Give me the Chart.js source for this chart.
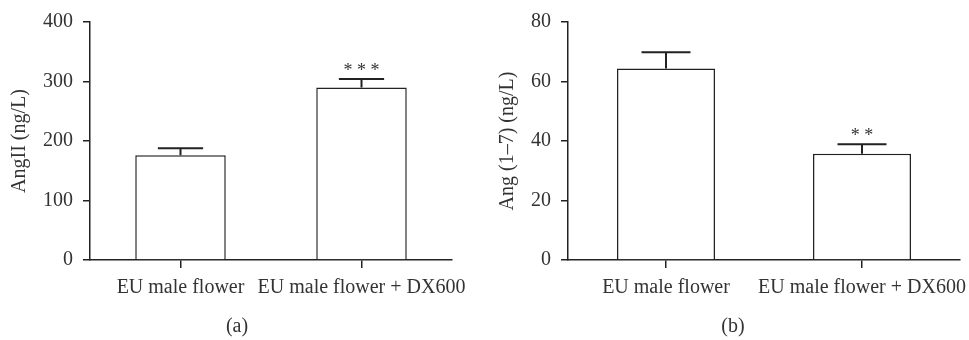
<!DOCTYPE html>
<html>
<head>
<meta charset="utf-8">
<script src="https://cdn.jsdelivr.net/npm/chart.js@4"></script>
<style>
  body { margin: 0; background: #fff; }
  .panel { position: absolute; top: 0; height: 340px; }
  .cap { position: absolute; top: 314px; font: 20px "Liberation Serif", serif; color: #333; transform: translateX(-50%); }
</style>
</head>
<body>
<div class="panel" style="left:0;width:480px"><canvas id="chartA" width="480" height="340"></canvas></div>
<div class="panel" style="left:480px;width:489px"><canvas id="chartB" width="489" height="340"></canvas></div>
<div class="cap" style="left:237px">(a)</div>
<div class="cap" style="left:733px">(b)</div>
<script>
// categories, shared by both panels
let groups = ['EU male flower', 'EU male flower + DX600']

// (a) AngII
let angII = [176, 290]
let angIIErr = [12, 14]
let angIIStars = ['', '* * *']

// (b) Ang (1-7)
let ang17 = [64.4, 35.7]
let ang17Err = [5.4, 3.2]
let ang17Stars = ['', '* *']

let ink = '#222'
let textInk = '#333'
Chart.defaults.font.family = '"Liberation Serif", "Times New Roman", serif'
Chart.defaults.color = textInk

/* error bars + significance stars, drawn above each bar */
let errorBars = {
    id: 'errorBars',
    afterDatasetsDraw(chart, args, opts) {
        let ctx = chart.ctx
        let yScale = chart.scales.y
        let meta = chart.getDatasetMeta(0)
        meta.data.forEach((bar, i) => {
            let v = chart.data.datasets[0].data[i]
            let top = yScale.getPixelForValue(v + opts.errors[i])
            let half = bar.width / 4
            ctx.save()
            ctx.strokeStyle = ink
            ctx.lineWidth = 2
            ctx.beginPath()
            ctx.moveTo(bar.x, bar.y)
            ctx.lineTo(bar.x, top)
            ctx.moveTo(bar.x - half, top)
            ctx.lineTo(bar.x + half, top)
            ctx.stroke()
            if (opts.stars[i]) {
                ctx.fillStyle = textInk
                ctx.font = '18px "Liberation Serif", serif'
                ctx.textAlign = 'center'
                ctx.textBaseline = 'alphabetic'
                ctx.fillText(opts.stars[i], bar.x, top - 3)
            }
            ctx.restore()
        })
    }
}

function makeChart(id, values, errors, stars, yMax, yStep, yTitle, axisLeft, padRight, titlePad) {
    return new Chart(document.getElementById(id), {
        type: 'bar',
        data: {
            labels: groups,
            datasets: [{
                data: values,
                backgroundColor: '#fff',
                borderColor: ink,
                borderWidth: 1.5,
                barPercentage: 0.5,
                categoryPercentage: 1
            }]
        },
        plugins: [errorBars],
        options: {
            responsive: false,
            animation: false,
            layout: { padding: { top: 20, right: padRight, bottom: 0, left: 0 } },
            plugins: {
                legend: { display: false },
                tooltip: { enabled: false },
                errorBars: { errors: errors, stars: stars }
            },
            scales: {
                x: {
                    // labels may spill past the axis end, like in the original figure
                    afterFit: (s) => { s.height = 80; s.paddingLeft = 0; s.paddingRight = 0 },
                    border: { color: ink, width: 1.5 },
                    grid: { display: true, drawOnChartArea: false, offset: false, tickLength: 8, color: ink, lineWidth: 1.5 },
                    ticks: { font: { size: 20 }, maxRotation: 0, autoSkip: false, padding: 8, color: textInk }
                },
                y: {
                    min: 0,
                    max: yMax,
                    afterFit: (s) => { s.width = axisLeft },
                    border: { color: ink, width: 1.5 },
                    grid: { display: true, drawOnChartArea: false, tickLength: 7, color: ink, lineWidth: 1.5 },
                    ticks: { stepSize: yStep, font: { size: 20 }, padding: 10, color: textInk },
                    title: { display: true, text: yTitle, font: { size: 20 }, color: textInk, padding: { top: titlePad, bottom: 0 } }
                }
            }
        }
    })
}

makeChart('chartA', angII, angIIErr, angIIStars, 400, 100, 'AngII (ng/L)', 90, 28, 8)
makeChart('chartB', ang17, ang17Err, ang17Stars, 80, 20, 'Ang (1–7) (ng/L)', 88, 9, 16)
</script>
</body>
</html>
